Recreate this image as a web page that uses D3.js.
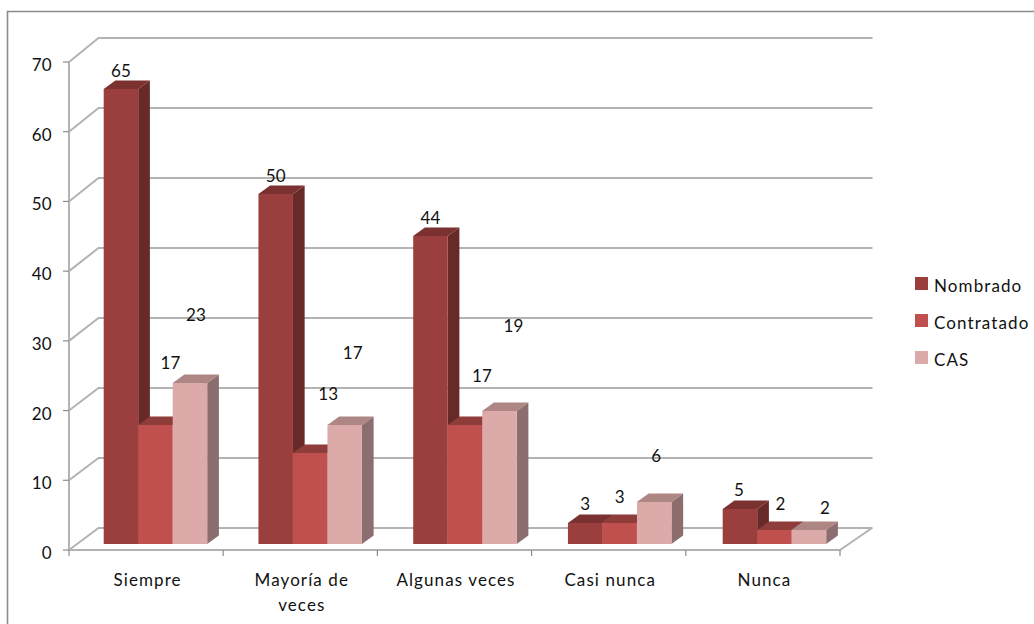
<!DOCTYPE html>
<html>
<head>
<meta charset="utf-8">
<script src="https://cdn.jsdelivr.net/npm/d3@7"></script>
<style>
  html, body { margin: 0; padding: 0; background: #fff; }
  svg { display: block; }
  text { font-family: Lato, "Open Sans", sans-serif; font-size: 17px; fill: #111; letter-spacing: 1.1px; }
</style>
</head>
<body>
<svg id="chart" width="1034" height="624"></svg>
<script>
const categories = ["Siempre", "Mayoría de veces", "Algunas veces", "Casi nunca", "Nunca"];
const seriesNames = ["Nombrado", "Contratado", "CAS"];
const nombrado = [65, 50, 44, 3, 5];
const contratado = [17, 13, 17, 3, 2];
const cas = [23, 17, 19, 6, 2];
const yTicks = [0, 10, 20, 30, 40, 50, 60, 70];

// Hand-placed data label offsets from the top centre of each bar [dx, dy]
const nombradoNudge = [[0, -18], [0, -18], [0, -18], [0, -19], [-1, -19]];
const contratadoNudge = [[15, -62], [18, -59], [17, -49], [0, -26], [6, -26]];
const casNudge = [[6, -68], [8, -72], [14, -85], [2, -46], [16, -22]];

const faceColors = [
  { front: "#9b3f3e", side: "#672a29", top: "#7b3130" },
  { front: "#c0504d", side: "#8a3a38", top: "#8f3d3b" },
  { front: "#dcaaa9", side: "#8d6e6f", top: "#ae8684" }
];
const gridColor = "#b3b3b3";

const svg = d3.select("#chart");

// Frame of the chart area, cut off by the right and bottom page edges
svg.append("path")
  .attr("d", d3.line()([[7.5, 624], [7.5, 11.5], [1034, 11.5]]))
  .attr("fill", "none").attr("stroke", "#8c8c8c").attr("stroke-width", 1.6);

// Pseudo-3D box: front edge scale, back wall scale and bar height scale
const yFront = d3.scaleLinear().domain([0, 70]).range([550, 62]);
const yBack = d3.scaleLinear().domain([0, 70]).range([528, 38]);
const yBar = d3.scaleLinear().domain([0, 70]).range([544, 54]);
const xBand = d3.scaleBand().domain(categories).range([69, 840]);
// Bars sit on the floor plane, whose band step is a touch wider than the front edge
const xBarBand = d3.scaleBand().domain(categories).range([69, 842.75]);
const xSeries = d3.scaleBand().domain(seriesNames).range([0, 103.5]);
const groupInset = 34.7;
const wallDepth = 29.5;
const floorDepth = 32;
const barDx = 11.7;
const barDy = 8.5;

// Back wall gridlines with their diagonal returns to the value axis
const walls = svg.append("g").attr("fill", "none")
  .attr("stroke", gridColor).attr("stroke-width", 2);
yTicks.forEach(t => {
  const xEnd = 872.5;
  walls.append("path").attr("d", d3.line()([
    [69, yFront(t)], [69 + wallDepth, yBack(t)], [xEnd, yBack(t)]
  ]));
});
walls.append("path").attr("d", d3.line()([
  [69, yFront(70)], [69, yFront(0)], [840, yFront(0)], [840 + floorDepth, yBack(0)]
]));

// Axis tick marks
const tickMarks = svg.append("g").attr("stroke", "#8c8c8c").attr("stroke-width", 1.2);
yTicks.forEach(t => tickMarks.append("line")
  .attr("x1", 63).attr("x2", 69).attr("y1", yFront(t)).attr("y2", yFront(t)));
const bandEdges = categories.map(c => xBand(c)).concat([840]);
bandEdges.forEach(x => tickMarks.append("line")
  .attr("x1", x).attr("x2", x).attr("y1", 550).attr("y2", 556));

// Value axis labels
svg.append("g").selectAll("text").data(yTicks).join("text")
  .attr("x", 51.5).attr("y", d => yFront(d) + 9)
  .attr("text-anchor", "end").style("letter-spacing", "0")
  .text(d => d);

// Category labels, wrapped the way the long one breaks
const wrapped = { "Mayoría de veces": ["Mayoría de", "veces"] };
categories.forEach(c => {
  const lines = wrapped[c] || [c];
  const cx = xBand(c) + xBand.bandwidth() / 2 + 1.5;
  lines.forEach((line, i) => svg.append("text")
    .attr("x", cx).attr("y", 586 + i * 25)
    .attr("text-anchor", "middle").text(line));
});

// Bars, drawn left to right so later front faces hide earlier side faces
const allSeries = [nombrado, contratado, cas];
const allNudges = [nombradoNudge, contratadoNudge, casNudge];
const barLayer = svg.append("g");
const labelLayer = svg.append("g");
categories.forEach((c, ci) => {
  seriesNames.forEach((name, si) => {
    const v = allSeries[si][ci];
    const x0 = xBarBand(c) + groupInset + xSeries(name);
    const x1 = x0 + xSeries.bandwidth();
    const yTop = yBar(v);
    const yBase = yBar(0);
    const colors = faceColors[si];
    const g = barLayer.append("g");
    g.append("path").attr("fill", colors.side).attr("d", d3.line()([
      [x1, yTop], [x1 + barDx, yTop - barDy], [x1 + barDx, yBase - barDy], [x1, yBase]
    ]) + "Z");
    g.append("path").attr("fill", colors.top).attr("d", d3.line()([
      [x0, yTop], [x0 + barDx, yTop - barDy], [x1 + barDx, yTop - barDy], [x1, yTop]
    ]) + "Z");
    g.append("rect").attr("fill", colors.front)
      .attr("x", x0).attr("y", yTop)
      .attr("width", x1 - x0).attr("height", yBase - yTop);

    const [dx, dy] = allNudges[si][ci];
    labelLayer.append("text")
      .attr("x", (x0 + x1) / 2 + dx).attr("y", yTop + dy + 6)
      .attr("text-anchor", "middle").style("letter-spacing", "0")
      .text(v);
  });
});

// Legend
const legend = svg.append("g");
seriesNames.forEach((name, i) => {
  const y = 277 + i * 37;
  legend.append("rect").attr("x", 915).attr("y", y)
    .attr("width", 13).attr("height", 13).attr("fill", faceColors[i].front);
  legend.append("text").attr("x", 934).attr("y", y + 14.5).text(name);
});
</script>
</body>
</html>
